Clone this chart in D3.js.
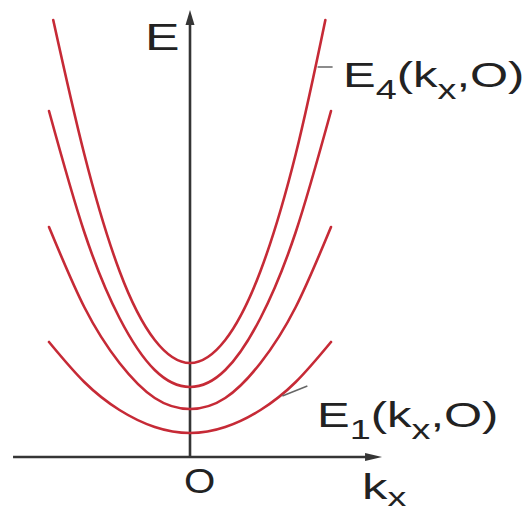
<!DOCTYPE html>
<html>
<head>
<meta charset="utf-8">
<script src="https://cdn.jsdelivr.net/npm/d3@7"></script>
<style>
  html, body { margin: 0; padding: 0; background: #ffffff; }
  svg { display: block; }
  text { font-family: "Liberation Sans", Arial, sans-serif; fill: #222; }
</style>
</head>
<body>
<div id="chart"></div>
<script>
// Subband dispersion E_n(kx, 0): sampled energies of each parabolic band
const kxSamples  = [-1, -0.75, -0.5, -0.25, 0, 0.25, 0.5, 0.75, 1];
const kxSamples4 = [-0.97, -0.75, -0.5, -0.25, 0, 0.25, 0.5, 0.75, 0.96];
const band1 = [1.15, 0.75, 0.47, 0.30, 0.24, 0.30, 0.47, 0.75, 1.15];
const band2 = [2.30, 1.50, 0.94, 0.59, 0.48, 0.59, 0.94, 1.50, 2.30];
const band3 = [3.46, 2.25, 1.39, 0.87, 0.70, 0.87, 1.39, 2.25, 3.46];
const band4 = [4.37, 3.03, 1.86, 1.17, 0.94, 1.17, 1.86, 3.03, 4.37];

// Axis extents (kx and E)
const kxExtent = [-1.255, 1.362];
const eExtent  = [0, 4.47];

// Label anchor points in data units
const band4LabelAt = { kx: 0.905, e: 3.90 };
const band1LabelAt = { kx: 0.655, e: 0.61 };

const W = 527, H = 516;
const svg = d3.select("#chart").append("svg")
  .attr("width", W).attr("height", H);

const x = d3.scaleLinear().domain([-1, 1]).range([49, 331]);
const y = d3.scaleLinear().domain(eExtent).range([457, 10]);

const axisColor = "#353535";
const curveColor = "#c62a36";

// Axes with arrowheads
const axes = svg.append("g");
axes.append("line")
  .attr("x1", x(kxExtent[0])).attr("x2", x(kxExtent[1]) - 10)
  .attr("y1", y(0)).attr("y2", y(0))
  .attr("stroke", axisColor).attr("stroke-width", 2.6);
axes.append("line")
  .attr("x1", x(0)).attr("x2", x(0))
  .attr("y1", y(0)).attr("y2", y(eExtent[1]) + 10)
  .attr("stroke", axisColor).attr("stroke-width", 2.6);

const xt = x(kxExtent[1]), yt = y(0);
axes.append("path")
  .attr("d", `M${xt},${yt} L${xt - 17},${yt - 4} L${xt - 17},${yt + 4} Z`)
  .attr("fill", axisColor);
const vx = x(0), vy = y(eExtent[1]);
axes.append("path")
  .attr("d", `M${vx},${vy} L${vx - 4.5},${vy + 15} L${vx + 4.5},${vy + 15} Z`)
  .attr("fill", axisColor);

// Bands
const line = d3.line()
  .x(d => x(d[0]))
  .y(d => y(d[1]))
  .curve(d3.curveNatural);

const bands = [
  { k: kxSamples,  e: band1 },
  { k: kxSamples,  e: band2 },
  { k: kxSamples,  e: band3 },
  { k: kxSamples4, e: band4 }
];

svg.append("g").selectAll("path")
  .data(bands)
  .join("path")
  .attr("d", b => line(d3.zip(b.k, b.e)))
  .attr("fill", "none")
  .attr("stroke", curveColor)
  .attr("stroke-width", 2.6)
  .attr("stroke-linecap", "round");

// Leader lines
svg.append("line")
  .attr("x1", x(band4LabelAt.kx)).attr("y1", y(band4LabelAt.e))
  .attr("x2", x(band4LabelAt.kx) + 15).attr("y2", y(band4LabelAt.e))
  .attr("stroke", "#666").attr("stroke-width", 1.5);
svg.append("line")
  .attr("x1", x(band1LabelAt.kx)).attr("y1", y(band1LabelAt.e))
  .attr("x2", x(band1LabelAt.kx) + 25).attr("y2", y(band1LabelAt.e) - 10)
  .attr("stroke", "#666").attr("stroke-width", 1.5);

// Text helper: runs of normal and subscript text, stretched horizontally
function label(px, py, sx, parts, size, subSize, subDy = 12) {
  const t = svg.append("text")
    .attr("transform", `translate(${px},${py}) scale(${sx},1)`)
    .attr("font-size", size);
  let shifted = false;
  parts.forEach(p => {
    const ts = t.append("tspan").text(p.t);
    if (p.sub && !shifted) { ts.attr("dy", subDy).attr("font-size", subSize); shifted = true; }
    else if (p.sub) { ts.attr("font-size", subSize); }
    else if (shifted) { ts.attr("dy", -subDy); shifted = false; }
  });
  return t;
}

label(343, 87, 1.4, [
  { t: "E" }, { t: "4", sub: true }, { t: "(k" }, { t: "x", sub: true }, { t: ",O)" }
], 35, 27);

label(317, 427, 1.4, [
  { t: "E" }, { t: "1", sub: true }, { t: "(k" }, { t: "x", sub: true }, { t: ",O)" }
], 35, 27);

label(145, 50, 1.4, [{ t: "E" }], 37, 27);
label(184, 493, 1.15, [{ t: "O" }], 35, 27);
label(362, 499, 1.45, [{ t: "k" }, { t: "x", sub: true }], 35, 26, 7);
</script>
</body>
</html>
